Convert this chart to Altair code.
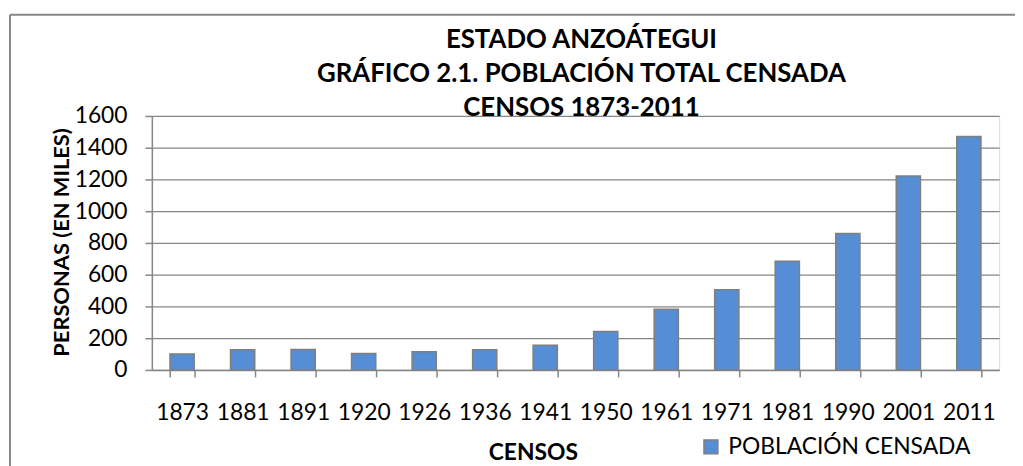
import altair as alt
import pandas as pd

censos = ["1873", "1881", "1891", "1920", "1926", "1936", "1941",
          "1950", "1961", "1971", "1981", "1990", "2001", "2011"]
poblacion = [101, 127, 129, 103, 115, 128, 155,
             242, 382, 506, 684, 860, 1222, 1470]
serie = ["POBLACIÓN CENSADA"] * len(censos)
y_ticks = [0, 200, 400, 600, 800, 1000, 1200, 1400, 1600]

df = pd.DataFrame({"censo": censos, "valor": poblacion, "serie": serie})

FONT = "Lato"
GRAY = "#868686"

bars = alt.Chart(df).mark_bar(stroke="#7f7f7f", strokeWidth=1.5).encode(
    x=alt.X("censo:N", sort=censos,
            scale=alt.Scale(paddingInner=0.6, paddingOuter=0.3),
            axis=alt.Axis(title="CENSOS", labelAngle=0, tickBand="extent",
                          tickSize=7, labelPadding=25, labelFontSize=23,
                          labelFont=FONT, labelColor="#000",
                          domainColor=GRAY, domainWidth=1.5,
                          tickColor=GRAY, tickWidth=1.5, grid=False,
                          titleFont=FONT, titleFontSize=23, titleFontWeight="bold",
                          titleColor="#000", titleX=384, titleY=83,
                          titleAlign="center", titleBaseline="middle")),
    y=alt.Y("valor:Q", scale=alt.Scale(domain=[0, 1600], nice=False),
            axis=alt.Axis(title="PERSONAS (EN MILES)", values=y_ticks,
                          format="d",
                          tickSize=7, labelPadding=18, labelFontSize=23,
                          labelFont=FONT, labelColor="#000",
                          domainColor=GRAY, domainWidth=1.5,
                          tickColor=GRAY, tickWidth=1.5,
                          gridColor=GRAY, gridWidth=1.2,
                          titleFont=FONT, titleFontSize=22, titleFontWeight="bold",
                          titleColor="#000", titleX=-91, titleY=127,
                          titleAngle=270, titleAlign="center",
                          titleBaseline="middle")),
    color=alt.Color("serie:N",
                    scale=alt.Scale(range=["#558ED5"]),
                    legend=alt.Legend(title=None, orient="none",
                                      legendX=552, legendY=322,
                                      symbolType="square", symbolSize=196,
                                      symbolStrokeColor="#7f7f7f",
                                      symbolStrokeWidth=1.5,
                                      labelFont=FONT, labelFontSize=23,
                                      labelColor="#000", labelOffset=6,
                                      labelLimit=0, padding=0)),
)

frame_df = pd.DataFrame({"k": [0]})
left_border = alt.Chart(frame_df).mark_rule(color=GRAY, strokeWidth=2).encode(
    x=alt.value(-143), y=alt.value(-102), y2=alt.value(400))
top_border = alt.Chart(frame_df).mark_rule(color=GRAY, strokeWidth=2).encode(
    x=alt.value(-143), x2=alt.value(900), y=alt.value(-102))

chart = alt.layer(bars, left_border, top_border).properties(
    width=854, height=256,
    autosize=alt.AutoSizeParams(type="none"),
    padding={"left": 145, "top": 107, "right": 16, "bottom": 95},
    title=alt.TitleParams(
        text=["ESTADO ANZOÁTEGUI", "GRÁFICO 2.1. POBLACIÓN TOTAL CENSADA",
              "CENSOS 1873-2011"],
        font=FONT, fontSize=26, fontWeight="bold", color="#000",
        lineHeight=34, anchor="middle", frame="group", dx=6, dy=104, offset=-4),
).configure_view(stroke=None).configure(background="white")

chart.save("out.html", embed_options={"renderer": "svg", "actions": False})
